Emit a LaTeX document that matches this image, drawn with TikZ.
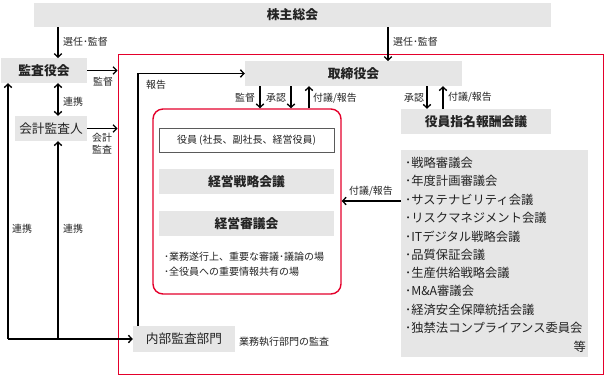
\documentclass[tikz,border=0pt]{standalone}
\usepackage{fontspec}
\setmainfont{Noto Sans CJK JP}
\usetikzlibrary{arrows.meta}
\definecolor{boxgray}{RGB}{230,230,230}
\definecolor{frred}{RGB}{228,0,43}
\definecolor{txt}{RGB}{35,35,35}
\definecolor{bordergray}{RGB}{90,90,90}
\newcommand\ttlfont{\fontsize{12.8}{15}\selectfont\bfseries}
\newcommand\regfont{\fontsize{12.7}{15}\selectfont}
\begin{document}
\begin{tikzpicture}[x=1pt,y=-1pt,
  box/.style={fill=boxgray, draw=none, inner sep=0pt, text=txt},
  arr/.style={-{Straight Barb[length=3.5pt,width=7.5pt]}, line width=1.3pt, black},
  arrtwo/.style={{Straight Barb[length=3.5pt,width=7.5pt]}-{Straight Barb[length=3.5pt,width=7.5pt]}, line width=1.3pt, black},
  lbl/.style={font=\fontsize{9.9}{11}\selectfont, text=txt, inner sep=0pt},
  listtxt/.style={font=\fontsize{12.3}{14}\selectfont, text=txt, inner sep=0pt, anchor=west}
]
\useasboundingbox (0,0) rectangle (604,376);

% frames
\node[draw=frred, line width=1pt, minimum width=485pt, minimum height=320pt, inner sep=0pt] (outer) at (360.5,214) {};
\node[draw=frred, line width=1.4pt, rounded corners=10pt, minimum width=188pt, minimum height=185pt, inner sep=0pt] (inner) at (247,201.5) {};

% boxes
\node[box, minimum width=517pt, minimum height=24pt, font=\ttlfont] (sh) at (292.5,15) {株主総会};
\node[box, minimum width=86pt, minimum height=25pt, font=\ttlfont] (kansa) at (44,70.5) {監査役会};
\node[box, minimum width=72pt, minimum height=25pt, font=\regfont] (kaikei) at (51,128.5) {会計監査人};
\node[box, minimum width=217pt, minimum height=25pt, font=\ttlfont] (tori) at (353.5,73.5) {取締役会};
\node[draw=bordergray, line width=0.8pt, fill=white, minimum width=175pt, minimum height=24pt, inner sep=0pt, text=txt, font=\fontsize{10}{12}\selectfont] (yakuin) at (246.5,140) {役員 (社長、副社長、経営役員)};
\node[box, minimum width=175pt, minimum height=25pt, font=\ttlfont] (senryaku) at (246.5,181.5) {経営戦略会議};
\node[box, minimum width=175pt, minimum height=25pt, font=\ttlfont] (shingi) at (246.5,223.5) {経営審議会};
\node[lbl, anchor=west, font=\fontsize{10}{11}\selectfont] (b1) at (164,257) {･業務遂行上、重要な審議･議論の場};
\node[lbl, anchor=west, font=\fontsize{10}{11}\selectfont] (b2) at (164,272) {･全役員への重要情報共有の場};
\node[box, minimum width=150pt, minimum height=25pt, font=\ttlfont] (shimei) at (476,121.5) {役員指名報酬会議};
\node[box, minimum width=187pt, minimum height=207pt] (list) at (494.5,253.5) {};
\foreach \t [count=\i from 0] in {･戦略審議会,･年度計画審議会,･サステナビリティ会議,･リスクマネジメント会議,･ITデジタル戦略会議,･品質保証会議,･生産供給戦略会議,･M\&A審議会,･経済安全保障統括会議,･独禁法コンプライアンス委員会}
  \node[listtxt] (l\i) at (405,163+18.33*\i) {\t};
\node[listtxt, anchor=east] (ltou) at (586,347) {等};
\node[box, minimum width=102pt, minimum height=26pt, font=\regfont] (naibu) at (184,339) {内部監査部門};
\node[lbl, anchor=west, font=\fontsize{10}{12}\selectfont] (naibulbl) at (239,341.5) {業務執行部門の監査};

% coordinates
\coordinate (k1) at (58,58);
\coordinate (t1) at (388,61);
\coordinate (k2) at (58,100);
\coordinate (c1) at (8,339);
\coordinate (c2) at (58,339);
\coordinate (r1) at (138,300);
\coordinate (d1) at (260,100);
\coordinate (d2) at (291,100);
\coordinate (u1) at (309,100);
\coordinate (d3) at (427,100);
\coordinate (u2) at (443,100);
\coordinate (s1) at (400,201);

% connectors
\draw[arr] (sh.south -| k1) -- (k1);
\draw[arr] (sh.south -| t1) -- (t1);
\draw[arr] (kansa.east) -- (kansa.east -| outer.west);
\draw[arrtwo] (kansa.south -| k2) -- (kaikei.north -| k2);
\draw[arr] (kaikei.east) -- (kaikei.east -| outer.west);
\draw[arr] (c1) -- (kansa.south -| c1);
\draw[arr] (c2) -- (kaikei.south -| c2);
\draw[arr] (c1) -- (naibu.west);
\draw[arr] (naibu.north -| r1) |- (tori.west);
\draw[arr] (tori.south -| d1) -- (inner.north -| d1);
\draw[arr] (tori.south -| d2) -- (inner.north -| d2);
\draw[arr] (inner.north -| u1) -- (tori.south -| u1);
\draw[arr] (tori.south -| d3) -- (shimei.north -| d3);
\draw[arr] (shimei.north -| u2) -- (tori.south -| u2);
\draw[arr] (list.west |- s1) -- (inner.east |- s1);

% labels
\node[lbl, anchor=west] (la1) at (63,42) {選任･監督};
\node[lbl, anchor=west] (la2) at (393,42) {選任･監督};
\node[lbl, anchor=west] (la3) at (93,82) {監督};
\node[lbl, anchor=west] (la4) at (63,102) {連携};
\node[lbl, anchor=west, align=left, font=\fontsize{9.9}{12}\selectfont] (la5) at (92,143.5) {会計\\監査};
\node[lbl, anchor=west] (la6) at (146,85) {報告};
\node[lbl, anchor=west] (la7) at (235,97.5) {監督};
\node[lbl, anchor=west] (la8) at (266,97.5) {承認};
\node[lbl, anchor=west] (la9) at (313,98.5) {付議/報告};
\node[lbl, anchor=west] (la10) at (404,97.5) {承認};
\node[lbl, anchor=west] (la11) at (448,97.5) {付議/報告};
\node[lbl, anchor=west] (la12) at (349,191) {付議/報告};
\node[lbl, anchor=west] (la13) at (12,229) {連携};
\node[lbl, anchor=west] (la14) at (63,229) {連携};
\end{tikzpicture}
\end{document}
